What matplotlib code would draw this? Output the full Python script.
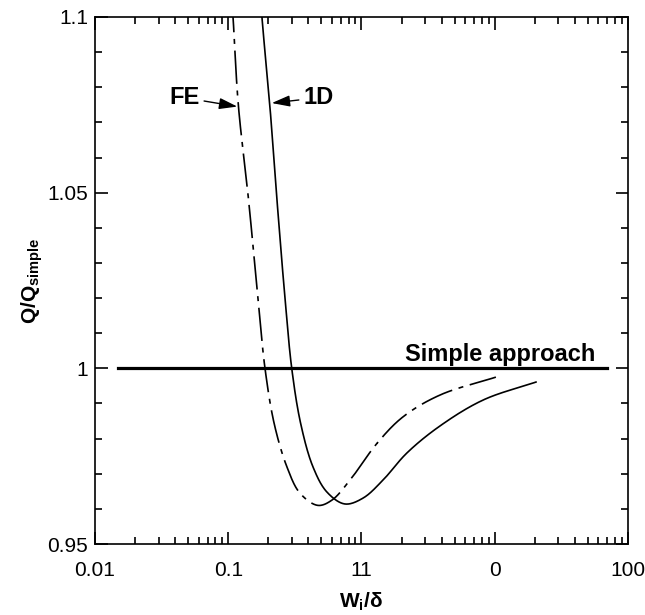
import matplotlib
matplotlib.use('Agg')
import matplotlib.pyplot as plt
import numpy as np
from matplotlib.ticker import FixedLocator, LogLocator, MultipleLocator, NullFormatter

plt.rcParams['font.family'] = ['Liberation Sans', 'DejaVu Sans']
plt.rcParams['mathtext.fontset'] = 'custom'
plt.rcParams['mathtext.rm'] = 'Liberation Sans'
plt.rcParams['mathtext.bf'] = 'Liberation Sans:bold'

# 1D model curve
x_1d = [0.165, 0.179, 0.205, 0.232, 0.268, 0.30, 0.35, 0.433, 0.55, 0.75,
        1.03, 1.45, 2.19, 3.88, 8.2, 20.4]
y_1d = [1.12, 1.1, 1.075, 1.048, 1.019, 0.9998, 0.9842, 0.9719, 0.9648, 0.9614,
        0.9631, 0.9682, 0.9759, 0.9836, 0.9910, 0.9961]

# FE curve
x_fe = [0.100, 0.1086, 0.119, 0.142, 0.168, 0.189, 0.222, 0.276, 0.345, 0.47,
        0.60, 0.82, 1.31, 2.05, 3.88, 10.2]
y_fe = [1.12, 1.1, 1.075, 1.048, 1.019, 0.9998, 0.9840, 0.9719, 0.9645, 0.9610,
        0.9625, 0.9682, 0.9787, 0.9862, 0.9924, 0.9975]

# simple approach reference
x_simple = [0.015, 70]
y_simple = [1.0, 1.0]

xtick_vals = [0.01, 0.1, 1, 10, 100]
xtick_labels = ['0.01', '0.1', '11', '0', '100']
ytick_vals = [0.95, 1.0, 1.05, 1.1]
ytick_labels = ['0.95', '1', '1.05', '1.1']


def smooth(xs, ys, n=30):
    # centripetal catmull-rom through the read points, in (log x, y) scaled to the box
    u = (np.log10(xs) + 2) / 4 * 533
    v = (np.asarray(ys) - 0.95) / 0.15 * 527
    P = np.column_stack([u, v])
    P = np.vstack([2 * P[0] - P[1], P, 2 * P[-1] - P[-2]])
    pts = []
    for i in range(1, len(P) - 2):
        p0, p1, p2, p3 = P[i - 1], P[i], P[i + 1], P[i + 2]
        t0 = 0.0
        t1 = t0 + np.linalg.norm(p1 - p0) ** 0.5
        t2 = t1 + np.linalg.norm(p2 - p1) ** 0.5
        t3 = t2 + np.linalg.norm(p3 - p2) ** 0.5
        t = np.linspace(t1, t2, n)[:, None]
        a1 = (t1 - t) / (t1 - t0) * p0 + (t - t0) / (t1 - t0) * p1
        a2 = (t2 - t) / (t2 - t1) * p1 + (t - t1) / (t2 - t1) * p2
        a3 = (t3 - t) / (t3 - t2) * p2 + (t - t2) / (t3 - t2) * p3
        b1 = (t2 - t) / (t2 - t0) * a1 + (t - t0) / (t2 - t0) * a2
        b2 = (t3 - t) / (t3 - t1) * a2 + (t - t1) / (t3 - t1) * a3
        c = (t2 - t) / (t2 - t1) * b1 + (t - t1) / (t2 - t1) * b2
        pts.append(c)
    C = np.vstack(pts)
    return 10 ** (C[:, 0] / 533 * 4 - 2), C[:, 1] / 527 * 0.15 + 0.95


fig = plt.figure(figsize=(6.45, 6.15), dpi=100)
ax = fig.add_axes([0.1473, 0.1154, 0.8263, 0.857])

sx, sy = smooth(x_1d, y_1d)
ax.plot(sx, sy, color='black', lw=1.2)
fx, fy = smooth(x_fe, y_fe)
ax.plot(fx, fy, color='black', lw=1.2, linestyle=(0, (20, 4, 3, 4)))
ax.plot(x_simple, y_simple, color='black', lw=2.3)

ax.set_xscale('log')
ax.set_xlim(0.01, 100)
ax.set_ylim(0.95, 1.1)

ax.xaxis.set_major_locator(FixedLocator(xtick_vals))
ax.set_xticklabels(xtick_labels)
ax.xaxis.set_minor_locator(LogLocator(base=10, subs=np.arange(2, 10)))
ax.xaxis.set_minor_formatter(NullFormatter())
ax.set_yticks(ytick_vals)
ax.set_yticklabels(ytick_labels)
ax.yaxis.set_minor_locator(MultipleLocator(0.01))

ax.tick_params(which='both', direction='in', top=True, right=True, labelsize=15, width=1.2)
ax.tick_params(which='major', length=9)
ax.tick_params(which='minor', length=5)
ax.tick_params(axis='x', which='major', pad=12)
ax.tick_params(axis='y', which='major', pad=5)
for sp in ax.spines.values():
    sp.set_linewidth(1.2)

ax.set_xlabel(r'$\mathbf{W_i}$/δ', fontsize=15, fontweight='bold', labelpad=8)
ax.set_ylabel(r'$\mathbf{Q/Q_{simple}}$', fontsize=15, fontweight='bold', labelpad=2)

ax.text(2.12, 1.0006, 'Simple approach', fontsize=17, fontweight='bold', ha='left', va='bottom')
arrow = dict(arrowstyle='-|>,head_length=0.65,head_width=0.2', color='black', fc='black',
             lw=1.0, shrinkA=1, shrinkB=0)
ax.annotate('FE', xy=(0.117, 1.0745), xytext=(0.0613, 1.077), fontsize=17, fontweight='bold',
            ha='right', va='center', arrowprops=arrow)
ax.annotate('1D', xy=(0.212, 1.0755), xytext=(0.364, 1.077), fontsize=17, fontweight='bold',
            ha='left', va='center', arrowprops=arrow)

fig.savefig('out.png', dpi=100)
